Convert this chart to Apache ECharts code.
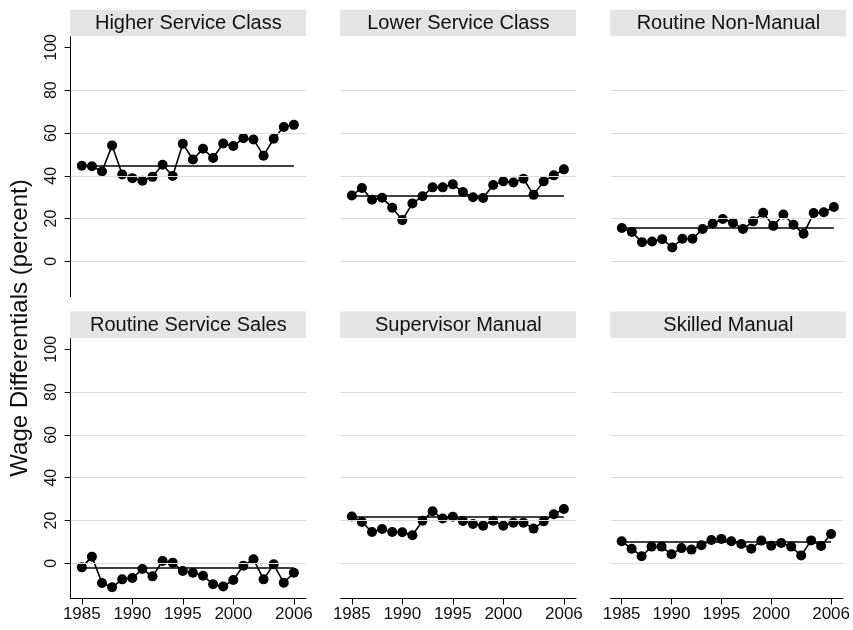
<!DOCTYPE html>
<html>
<head>
<meta charset="utf-8">
<script src="https://cdn.jsdelivr.net/npm/echarts@6/dist/echarts.min.js"></script>
<style>
  html, body { margin: 0; padding: 0; background: #fff; }
  #main { width: 853px; height: 630px; }
</style>
</head>
<body>
<div id="main"></div>
<script>
var years = [1985, 1986, 1987, 1988, 1989, 1990, 1991, 1992, 1993, 1994, 1995,
             1996, 1997, 1998, 1999, 2000, 2001, 2002, 2003, 2004, 2005, 2006];

var higherService   = [44.7, 44.5, 42.0, 54.2, 40.6, 38.9, 37.7, 39.5, 45.2, 39.9, 55.0,
                       47.6, 52.6, 48.3, 55.1, 53.9, 57.6, 57.0, 49.4, 57.3, 62.8, 63.8];
var lowerService    = [30.8, 34.3, 28.8, 29.7, 25.1, 19.3, 27.1, 30.4, 34.6, 34.6, 36.0,
                       32.4, 30.0, 29.6, 35.7, 37.4, 36.9, 38.6, 31.1, 37.4, 40.2, 43.0];
var routineNonMan   = [15.6, 13.7, 9.0, 9.3, 10.4, 6.5, 10.6, 10.6, 15.1, 17.7, 19.8,
                       18.1, 15.1, 18.7, 22.7, 16.6, 21.9, 17.1, 12.9, 22.6, 23.0, 25.4];
var routineSales    = [-1.9, 3.1, -9.2, -11.2, -7.5, -6.9, -2.7, -6.1, 1.1, 0.3, -3.6,
                       -4.4, -5.8, -9.8, -10.8, -7.8, -1.1, 1.9, -7.5, -0.5, -9.1, -4.4];
var supervisorMan   = [21.9, 19.3, 14.6, 16.0, 14.6, 14.5, 13.1, 19.9, 24.3, 20.9, 21.8,
                       19.8, 18.4, 17.6, 19.9, 17.6, 19.0, 19.0, 16.2, 19.6, 22.9, 25.4];
var skilledMan      = [10.3, 6.8, 3.3, 7.8, 7.8, 4.2, 7.1, 6.4, 8.4, 10.9, 11.4,
                       10.3, 9.0, 6.8, 10.6, 8.2, 9.5, 7.8, 3.6, 10.7, 8.1, 13.7];

var panelTitles = ['Higher Service Class', 'Lower Service Class', 'Routine Non-Manual',
                   'Routine Service Sales', 'Supervisor Manual', 'Skilled Manual'];
var panelData = [higherService, lowerService, routineNonMan,
                 routineSales, supervisorMan, skilledMan];

var yTicks = [0, 20, 40, 60, 80, 100];
var yGridLines = [0, 20, 40, 60, 80];
var xTicks = [1985, 1990, 1995, 2000, 2006];
var yAxisTitle = 'Wage Differentials (percent)';

var FONT = 'Liberation Sans, Arial, Helvetica, sans-serif';
var colLeft = [70.7, 340.7, 610.7];
var rowTop = [36.7, 338.6];
var panelW = 235.3, panelH = 260;
var headerH = 26.5;

var grids = [], xAxes = [], yAxes = [], series = [], graphics = [];

for (var i = 0; i < 6; i++) {
    var r = Math.floor(i / 3), c = i % 3;
    var vals = panelData[i];
    var pts = years.map(function (y, k) { return [y, vals[k]]; });

    grids.push({ left: colLeft[c], top: rowTop[r], width: panelW, height: panelH });

    xAxes.push({
        type: 'value', gridIndex: i, min: 1983.9, max: 2007.2,
        splitLine: { show: false },
        axisLine: { show: r === 1, onZero: false, lineStyle: { color: '#000', width: 1 } },
        axisTick: { show: r === 1, length: 6, customValues: xTicks, lineStyle: { color: '#000' } },
        axisLabel: { show: r === 1, customValues: xTicks, color: '#111', fontSize: 17,
                     fontFamily: FONT, margin: 7,
                     formatter: function (v) { return String(v); } }
    });

    yAxes.push({
        type: 'value', gridIndex: i, min: -16.5, max: 105,
        splitLine: { show: false },
        axisLine: { show: c === 0, onZero: false, lineStyle: { color: '#000', width: 1 } },
        axisTick: { show: c === 0, length: 6, customValues: yTicks, lineStyle: { color: '#000' } },
        axisLabel: { show: c === 0, customValues: yTicks, rotate: 90, color: '#111', fontSize: 16,
                     fontFamily: FONT, margin: 11 }
    });

    // light grid lines behind the data
    series.push({
        type: 'line', xAxisIndex: i, yAxisIndex: i, data: pts, z: 1,
        showSymbol: false, lineStyle: { opacity: 0 }, silent: true,
        markLine: {
            silent: true, symbol: 'none', label: { show: false },
            lineStyle: { color: '#dcdcdc', width: 1.2, type: 'solid' },
            data: yGridLines.map(function (v) { return { yAxis: v }; })
        }
    });

    // data line + reference at the 1985 level
    series.push({
        type: 'line', xAxisIndex: i, yAxisIndex: i, data: pts, z: 3,
        symbol: 'circle', symbolSize: 10, showAllSymbol: true,
        itemStyle: { color: '#000' },
        lineStyle: { color: '#000', width: 1.6 },
        markLine: {
            silent: true, symbol: 'none', label: { show: false },
            lineStyle: { color: '#000', width: 1.6, type: 'solid' },
            data: [[{ coord: [years[0], vals[0]] }, { coord: [years[years.length - 1], vals[0]] }]]
        }
    });

    graphics.push({
        type: 'rect', left: colLeft[c] - 0.5, top: rowTop[r] - headerH - 0.5,
        shape: { width: panelW + 0.5, height: headerH },
        style: { fill: '#e4e4e4' }, silent: true
    });
    graphics.push({
        type: 'text', x: colLeft[c] + panelW / 2, y: rowTop[r] - headerH / 2,
        style: { text: panelTitles[i], fill: '#111', font: '20px ' + FONT,
                 textAlign: 'center', textVerticalAlign: 'middle' }, silent: true
    });
}

graphics.push({
    type: 'text', x: 20, y: 328, rotation: Math.PI / 2,
    style: { text: yAxisTitle, fill: '#111', font: '24px ' + FONT,
             textAlign: 'center', textVerticalAlign: 'middle' }, silent: true
});

var myChart = echarts.init(document.getElementById('main'), null, { renderer: 'canvas' });
myChart.setOption({
    animation: false,
    backgroundColor: '#fff',
    grid: grids,
    xAxis: xAxes,
    yAxis: yAxes,
    series: series,
    graphic: graphics
});
</script>
</body>
</html>
